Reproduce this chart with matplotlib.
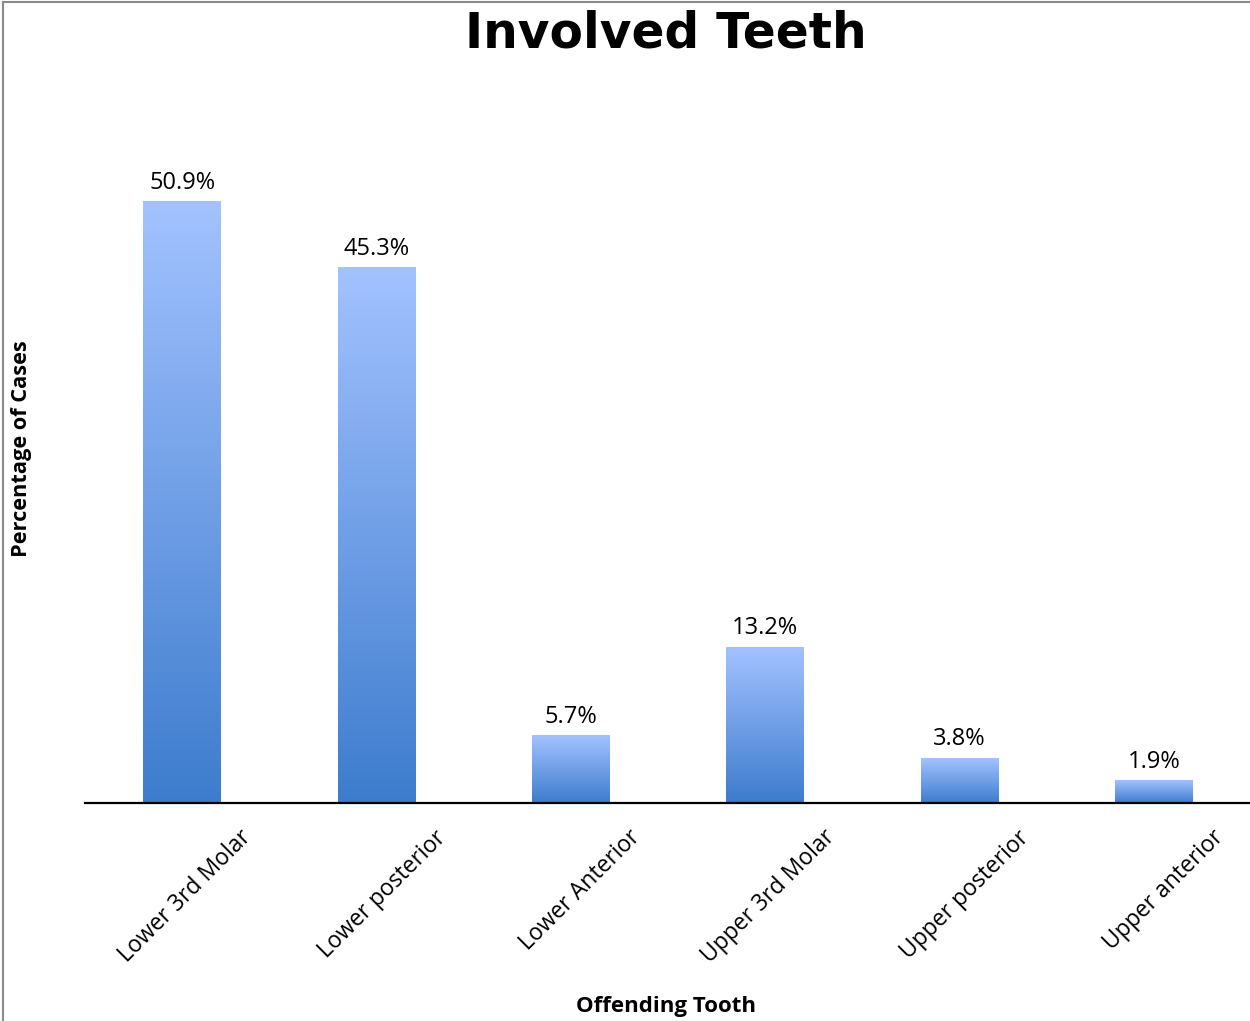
import numpy as np
import matplotlib
matplotlib.use("Agg")
import matplotlib.pyplot as plt
from matplotlib.colors import LinearSegmentedColormap
from matplotlib.lines import Line2D
from matplotlib.transforms import ScaledTranslation
import matplotlib.patheffects as pe

categories = ["Lower 3rd Molar", "Lower posterior", "Lower Anterior",
              "Upper 3rd Molar", "Upper posterior", "Upper anterior"]
values = [50.9, 45.3, 5.7, 13.2, 3.8, 1.9]
labels = ["50.9%", "45.3%", "5.7%", "13.2%", "3.8%", "1.9%"]

fig = plt.figure(figsize=(12.5, 10.21), dpi=100)
ax = fig.add_axes([85/1250, 218/1021, 1166/1250, (803-94)/1021])

x = np.arange(len(categories))
bars = ax.bar(x, values, width=0.40, color="none", edgecolor="none")

cmap = LinearSegmentedColormap.from_list("g", ["#3d7ccd", "#a3c2ff"])
grad = np.linspace(0, 1, 256).reshape(-1, 1)
for b in bars:
    x0, y0 = b.get_x(), b.get_y()
    w, h = b.get_width(), b.get_height()
    sh = plt.Rectangle((x0, y0), w, h, facecolor="white", edgecolor="none", zorder=1,
                       path_effects=[pe.SimplePatchShadow(offset=(0, -3), shadow_rgbFace="#000000", alpha=0.18)])
    ax.add_patch(sh)
    ax.imshow(grad, extent=(x0, x0 + w, y0, y0 + h), origin="lower", aspect="auto",
              cmap=cmap, zorder=2, interpolation="bilinear")

for xi, v, lab in zip(x, values, labels):
    ax.annotate(lab, (xi, v), xytext=(0, 5), textcoords="offset points",
                ha="center", va="bottom", fontsize=17, family="Open Sans", color="black")

ax.set_xlim(-0.5, 5.5)
ax.set_ylim(0, 60)
ax.set_xticks(x)
ax.set_xticklabels([])
ax.tick_params(axis="x", length=0)
ax.set_yticks([])
for s in ["top", "right", "left"]:
    ax.spines[s].set_visible(False)
ax.spines["bottom"].set_linewidth(1.6)
ax.spines["bottom"].set_color("black")
ax.spines["bottom"].set_zorder(5)

for xi, cat in zip(x, categories):
    tr = ax.get_xaxis_transform() + ScaledTranslation(66/100, -31/100, fig.dpi_scale_trans)
    ax.text(xi, 0, cat, transform=tr, rotation=45, rotation_mode="anchor",
            ha="right", va="center", fontsize=16.5, family="Open Sans", color="black")

fig.text(666/1250, 1 - 33/1021, "Involved Teeth", ha="center", va="center",
         fontsize=35, fontweight="heavy", family="DejaVu Sans")
fig.text(666/1250, 1 - 1006/1021, "Offending Tooth", ha="center", va="center",
         fontsize=16, fontweight="bold", family="Open Sans")
fig.text(22/1250, 1 - 449/1021, "Percentage of Cases", ha="center", va="center",
         rotation=90, fontsize=15.7, fontweight="bold", family="Open Sans")

fig.add_artist(Line2D([3/1250, 3/1250], [0, 1 - 2/1021], color="#8a8a8a", lw=1.5))
fig.add_artist(Line2D([3/1250, 1], [1 - 2/1021, 1 - 2/1021], color="#8a8a8a", lw=1.5))

fig.savefig("out.png", dpi=100)
